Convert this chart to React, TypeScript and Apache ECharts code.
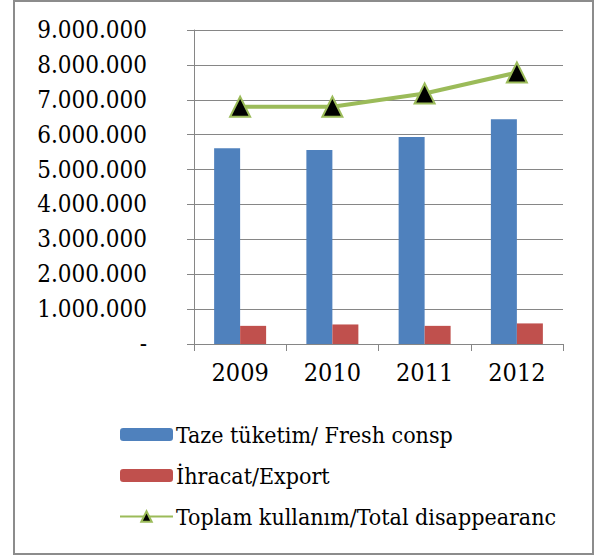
import React, { useEffect, useRef } from "react";
import * as echarts from "echarts";

const years = ["2009", "2010", "2011", "2012"];
const freshConsumption = [5610000, 5560000, 5930000, 6440000];
const exportValues = [520000, 560000, 520000, 590000];
const totalDisappearance = [6800000, 6800000, 7180000, 7780000];
const seriesNames = [
  "Taze tüketim/ Fresh consp",
  "İhracat/Export",
  "Toplam kullanım/Total disappearanc",
];

const FONT = "'DejaVu Serif Condensed', 'DejaVu Serif', serif";

function fmt(v: number): string {
  if (v === 0) return "-";
  return String(Math.round(v)).replace(/\B(?=(\d{3})+(?!\d))/g, ".");
}

export default function App() {
  const ref = useRef<HTMLDivElement>(null);
  useEffect(() => {
    if (!ref.current) return;
    const chart = echarts.init(ref.current, undefined, { renderer: "svg" });
    chart.setOption({
      animation: false,
      backgroundColor: "#ffffff",
      textStyle: { fontFamily: FONT },
      graphic: [
        {
          type: "rect",
          shape: { x: 14, y: 1, width: 579, height: 553 },
          style: { fill: "none", stroke: "#8c8c8c", lineWidth: 2 },
          silent: true,
        },
      ],
      grid: { left: 194, right: 35, top: 30, bottom: 213, containLabel: false },
      legend: {
        orient: "vertical",
        left: 119,
        top: 423,
        padding: 0,
        itemWidth: 53,
        itemHeight: 13,
        itemGap: 18,
        textStyle: { fontFamily: FONT, fontSize: 23, color: "#000", padding: [0, 0, 0, -2] },
        data: seriesNames,
      },
      xAxis: {
        type: "category",
        data: years,
        axisLine: { lineStyle: { color: "#868686", width: 1 } },
        axisTick: { show: true, length: 7, alignWithLabel: false, lineStyle: { color: "#868686" } },
        axisLabel: { fontFamily: FONT, fontSize: 25, color: "#000", margin: 16 },
      },
      yAxis: {
        type: "value",
        min: 0,
        max: 9000000,
        interval: 1000000,
        axisLine: { show: true, lineStyle: { color: "#868686", width: 1 } },
        axisTick: { show: true, length: 7, lineStyle: { color: "#868686" } },
        splitLine: { lineStyle: { color: "#868686", width: 1 } },
        axisLabel: {
          fontFamily: FONT,
          fontSize: 24,
          color: "#000",
          margin: 47,
          formatter: (v: number) => fmt(v),
        },
      },
      series: [
        {
          name: seriesNames[0],
          type: "bar",
          data: freshConsumption,
          barWidth: 26,
          barGap: "0%",
          itemStyle: { color: "#4F81BD" },
        },
        {
          name: seriesNames[1],
          type: "bar",
          data: exportValues,
          barWidth: 26,
          barGap: "0%",
          itemStyle: { color: "#C0504D" },
        },
        {
          name: seriesNames[2],
          type: "line",
          data: totalDisappearance,
          symbol: "triangle",
          symbolSize: 20,
          lineStyle: { color: "#9BBB59", width: 4 },
          itemStyle: { color: "#000000", borderColor: "#9BBB59", borderWidth: 2 },
        },
      ],
    });
    return () => chart.dispose();
  }, []);
  return (
    <div
      ref={ref}
      style={{ position: "fixed", left: 0, top: 0, width: 598, height: 557 }}
    />
  );
}
